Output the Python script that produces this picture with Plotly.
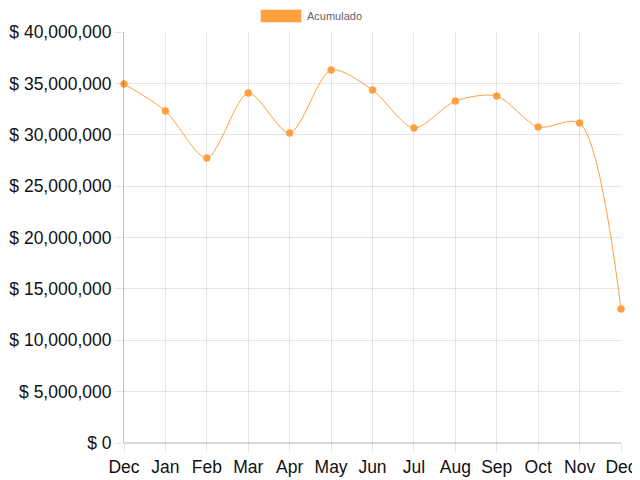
import plotly.graph_objects as go

months = ["Dec", "Jan", "Feb", "Mar", "Apr", "May", "Jun", "Jul", "Aug", "Sep", "Oct", "Nov", "Dec"]
acumulado = [34950000, 32320000, 27740000, 34060000, 30170000, 36300000, 34360000,
             30660000, 33280000, 33770000, 30750000, 31140000, 13040000]
y_ticks = [0, 5000000, 10000000, 15000000, 20000000, 25000000, 30000000, 35000000, 40000000]
y_labels = ["$ {:,}".format(v) for v in y_ticks]
series_name = "Acumulado"
orange = "rgb(255,159,64)"

x_idx = list(range(len(months)))

fig = go.Figure()
fig.add_trace(go.Scatter(
    x=x_idx, y=acumulado, mode="lines+markers", name=series_name,
    line=dict(color=orange, width=1, shape="spline", smoothing=0.8),
    marker=dict(color=orange, size=7, line=dict(color="rgba(255,159,64,0.5)", width=1)),
    showlegend=False, cliponaxis=False,
))

grid = "rgba(0,0,0,0.1)"
# page body has an 8px margin, so the figure is 8px smaller than the window
fig.update_layout(
    width=632, height=472,
    margin=dict(l=116, r=19, t=24, b=37, autoexpand=False),
    plot_bgcolor="white", paper_bgcolor="white",
    font=dict(family="Liberation Sans, Arial, sans-serif", color="#111"),
    xaxis=dict(
        tickmode="array", tickvals=x_idx, ticktext=months,
        range=[0, len(months) - 1], automargin=False,
        showgrid=True, gridcolor=grid, gridwidth=1,
        ticks="outside", ticklen=8, tickcolor=grid,
        tickfont=dict(size=17.5, color="#111"),
        showline=False, zeroline=False, fixedrange=True,
    ),
    yaxis=dict(
        tickmode="array", tickvals=y_ticks, ticktext=y_labels,
        range=[0, 40000000], automargin=False,
        showgrid=True, gridcolor=grid, gridwidth=1,
        ticks="outside", ticklen=8, tickcolor=grid,
        tickfont=dict(size=17.5, color="#111"),
        showline=True, linecolor="rgba(0,0,0,0.25)", linewidth=1,
        zeroline=False, fixedrange=True,
    ),
    showlegend=False,
)

# bottom axis line (darker)
fig.add_shape(type="line", xref="paper", yref="paper", x0=0, x1=1, y0=0, y1=0,
              line=dict(color="rgba(0,0,0,0.3)", width=1))

# Chart.js-style legend box
fig.add_shape(type="rect", xref="paper", yref="paper",
              x0=(261 - 124) / 497, x1=(301 - 124) / 497,
              y0=(443 - 22) / 411, y1=(443 - 10) / 411,
              fillcolor=orange, line=dict(color="rgba(255,159,64,0.6)", width=1))
fig.add_annotation(xref="paper", yref="paper", x=(305 - 124) / 497, y=(443 - 16) / 411,
                   text=series_name, showarrow=False, xanchor="left", yanchor="middle",
                   font=dict(size=11, color="#666"))

fig.write_html("out.html")
